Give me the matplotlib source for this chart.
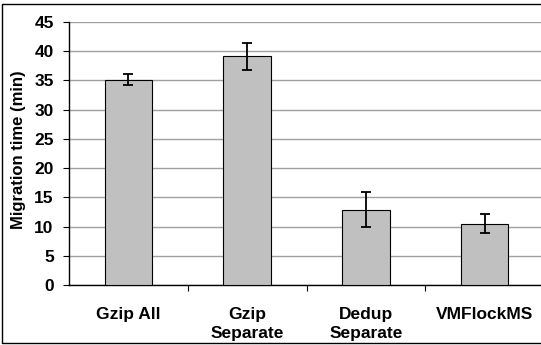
import numpy as np
import matplotlib
matplotlib.use('Agg')
import matplotlib.pyplot as plt
from matplotlib.lines import Line2D

categories = ['Gzip All', 'Gzip\nSeparate', 'Dedup\nSeparate', 'VMFlockMS']
times      = [35.1, 39.1, 12.9, 10.5]
errors     = [0.95, 2.35, 2.95, 1.6]

plt.rcParams['font.family'] = ['Liberation Sans', 'DejaVu Sans']
plt.rcParams['font.weight'] = 'bold'

W, H = 541, 345
fig = plt.figure(figsize=(W/100, H/100), dpi=100)
ax = fig.add_axes([69/W, 1 - 285/H, (544 - 69)/W, (285 - 22)/H])

x = np.arange(len(categories))
ax.bar(x, times, width=0.4, color='#c0c0c0', edgecolor='black', linewidth=0.8, zorder=3)
ax.errorbar(x, times, yerr=errors, fmt='none', ecolor='black', elinewidth=1.3,
            capsize=3.5, capthick=1.3, zorder=4)

ax.set_xlim(-0.5, 3.5)
ax.set_ylim(0, 45)
ax.set_yticks(np.arange(0, 46, 5))
ax.yaxis.grid(True, color='#a0a0a0', linewidth=1.0, zorder=0)
ax.set_axisbelow(True)

# category labels centred under bars, ticks at category boundaries
ax.set_xticks(x)
ax.set_xticklabels(categories, fontsize=12.5, fontweight='bold', linespacing=1.3)
ax.tick_params(axis='x', length=0, pad=16)
ax.set_xticks([0.5, 1.5, 2.5], minor=True)
ax.tick_params(axis='x', which='minor', length=4.5, width=0.8, direction='out')
ax.tick_params(axis='y', length=4.5, width=0.8, labelsize=12.5, pad=6.5)
for lbl in ax.get_yticklabels():
    lbl.set_fontweight('bold')

for side in ['top', 'right']:
    ax.spines[side].set_visible(False)
ax.spines['left'].set_linewidth(1.0)
ax.spines['bottom'].set_linewidth(1.0)

ax.set_ylabel('Migration time (min)', fontsize=12, fontweight='bold')
ax.yaxis.set_label_coords(-0.0905, 0.513)

# outer frame of the chart (open on the right)
fx = [W/W, 1.5/W, 1.5/W, W/W]
fy = [1 - 3.5/H, 1 - 3.5/H, 1 - 343/H, 1 - 343/H]
fig.lines.append(Line2D(fx, fy, transform=fig.transFigure, color='black', linewidth=1.0))

fig.savefig('out.png', dpi=100)
